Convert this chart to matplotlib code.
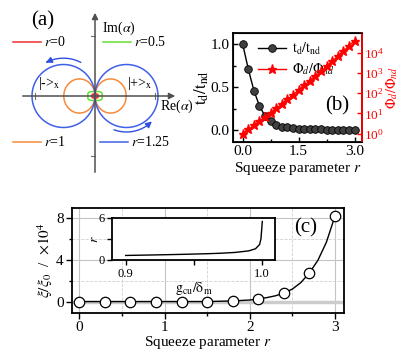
import numpy as np
import matplotlib
matplotlib.use("Agg")
import matplotlib.pyplot as plt
from matplotlib.ticker import MultipleLocator, FixedLocator, NullFormatter

plt.rcParams['font.family'] = 'serif'
plt.rcParams['font.serif'] = ['Liberation Serif', 'DejaVu Serif']
plt.rcParams['mathtext.fontset'] = 'stix'

# ---- panel (a): contours in phase space (units: one tick = 1)
a_labels = ['0', '0.5', '1', '1.25']
a_colors = ['#f03030', '#66dd33', '#f58a3c', '#4060e8']
lobe_a = [0.05, 0.12, 0.26, 0.525]     # half width of each lobe
lobe_b = [0.033, 0.075, 0.285, 0.525]  # half height of each lobe
lobe_two = [False, False, True, True]  # two lobes touching at origin?

# ---- panel (b)
r_b = [0.0, 0.15, 0.3, 0.45, 0.6, 0.75, 0.9, 1.05, 1.2, 1.35, 1.5,
       1.65, 1.8, 1.95, 2.1, 2.25, 2.4, 2.55, 2.7, 2.85, 3.0]
t_ratio = [1.0, 0.71, 0.46, 0.28, 0.16, 0.10, 0.06, 0.04, 0.03, 0.02, 0.015,
           0.012, 0.01, 0.008, 0.006, 0.005, 0.004, 0.003, 0.002, 0.002, 0.001]
phi_ratio = [1, 1.6, 2.5, 4.1, 6.6, 10.7, 17.8, 29.5, 49, 83, 141,
             240, 407, 708, 1230, 2140, 3800, 6760, 12000, 21900, 39800]

# ---- panel (c)
r_c = [0.0, 0.3, 0.6, 0.9, 1.2, 1.5, 1.8, 2.1, 2.4, 2.7, 3.0]
xi_c = [0, 0, 0, 0, 0, 0, 0.06, 0.25, 0.8, 2.75, 8.2]
curve_r = [0.0, 1.5, 1.8, 2.0, 2.1, 2.2, 2.3, 2.4, 2.5, 2.6, 2.7, 2.8, 2.9, 3.0]
curve_xi = [0, 0, 0.06, 0.15, 0.25, 0.38, 0.55, 0.8, 1.2, 1.82, 2.75, 3.96, 5.7, 8.2]
g_in = [0.9, 0.92, 0.94, 0.96, 0.97, 0.98, 0.99, 0.995, 0.998, 0.999, 0.9995, 1.0]
r_in = [0.65, 0.72, 0.8, 0.9, 0.97, 1.08, 1.3, 1.6, 2.2, 3.0, 4.2, 5.5]

fig = plt.figure(figsize=(4, 3.5), dpi=100)

# ================= (a)
axa = fig.add_axes([0, 1 - 190 / 350, 0.5, 190 / 350])
axa.set_xlim(-95 / 60, 105 / 60)
axa.set_ylim(-94 / 60, 96 / 60)
axa.set_aspect('equal')
axa.axis('off')

axc = '#707070'
axa.annotate('', xy=(83 / 60, 0), xytext=(-75 / 60, 0),
             arrowprops=dict(arrowstyle='-|>', color='#505050', lw=1.1, mutation_scale=9))
axa.annotate('', xy=(0, 86 / 60), xytext=(0, -79 / 60),
             arrowprops=dict(arrowstyle='-|>', color='#505050', lw=1.1, mutation_scale=9))
for t in (-1, 1):
    axa.plot([t, t], [-0.05, 0.05], color=axc, lw=0.8)
    axa.plot([-0.07, 0], [t, t], color=axc, lw=0.8)

th = np.linspace(0, 2 * np.pi, 200)
for a, b, two, c in zip(lobe_a, lobe_b, lobe_two, a_colors):
    if two:
        for s in (-1, 1):
            axa.plot(s * a + a * np.cos(th), b * np.sin(th), color=c, lw=1.1)
    elif c == a_colors[1]:
        # rounded rectangle-like superellipse
        n = 4
        xs = a * np.sign(np.cos(th)) * np.abs(np.cos(th)) ** (2 / n)
        ys = b * np.sign(np.sin(th)) * np.abs(np.sin(th)) ** (2 / n)
        axa.plot(xs, ys, color=c, lw=1.1)
    else:
        axa.plot(a * np.cos(th), b * np.sin(th), color=c, lw=1.6)

# rotation arrows
ang = np.radians(np.linspace(63, 118, 40))
axa.plot(-0.525 + 0.63 * np.cos(ang[:-3]), 0.63 * np.sin(ang[:-3]), color='#3050e0', lw=1)
axa.annotate('', xy=(-0.525 + 0.63 * np.cos(ang[-1]), 0.63 * np.sin(ang[-1])),
             xytext=(-0.525 + 0.63 * np.cos(ang[-6]), 0.63 * np.sin(ang[-6])),
             arrowprops=dict(arrowstyle='-|>', color='#3050e0', lw=1, mutation_scale=9))
ang = np.radians(np.linspace(-110, -45, 40))
axa.plot(0.525 + 0.6 * np.cos(ang[:-3]), 0.6 * np.sin(ang[:-3]), color='#3050e0', lw=1)
axa.annotate('', xy=(0.525 + 0.6 * np.cos(ang[-1]), 0.6 * np.sin(ang[-1])),
             xytext=(0.525 + 0.6 * np.cos(ang[-6]), 0.6 * np.sin(ang[-6])),
             arrowprops=dict(arrowstyle='-|>', color='#3050e0', lw=1, mutation_scale=9))

axa.text(-0.88, 1.25, '(a)', fontsize=15, ha='center', va='center')
axa.text(0.12, 1.12, r'Im($\alpha$)', fontsize=10, va='center')
axa.text(1.08, -0.17, r'Re($\alpha$)', fontsize=10, va='center')
axa.text(-0.95, 0.2, r'|->$_{\rm x}$', fontsize=10, va='center')
axa.text(0.53, 0.2, r'|+>$_{\rm x}$', fontsize=10, va='center')

leg_pos = [(-1.37, 0.9), (0.13, 0.9), (-1.37, -0.77), (0.08, -0.77)]
for (lx, ly), lab, c in zip(leg_pos, a_labels, a_colors):
    axa.plot([lx, lx + 0.47], [ly, ly], color=c, lw=1.1)
    axa.text(lx + 0.52, ly, '$r$=' + lab, fontsize=10, va='center')

# ================= (b)
axb = fig.add_axes([233 / 400, 1 - 142 / 350, 129 / 400, 109 / 350])
l1, = axb.plot(r_b, t_ratio, color='black', lw=1, marker='o', ms=5.5,
               mfc='#404040', mec='black', mew=0.6, label=r'$\rm t_d/t_{nd}$')
axb.set_xlim(-0.26, 3.2)
axb.set_ylim(-0.14, 1.13)
axb.xaxis.set_major_locator(FixedLocator([0, 1.5, 3.0]))
axb.xaxis.set_minor_locator(FixedLocator([0.75, 2.25]))
axb.set_xticklabels(['0.0', '1.5', '3.0'])
axb.yaxis.set_major_locator(FixedLocator([0, 0.5, 1.0]))
axb.yaxis.set_minor_locator(FixedLocator([0.25, 0.75]))
axb.set_yticklabels(['0.0', '0.5', '1.0'])
axb.tick_params(which='both', direction='in', labelsize=11, width=1, pad=2.5)
axb.tick_params(which='major', length=3.5)
axb.tick_params(which='minor', length=2)
axb.set_xlabel('Squeeze parameter $r$', fontsize=11, labelpad=1)
axb.set_ylabel(r'$\rm t_d/t_{nd}$', fontsize=12, labelpad=0)
for sp in axb.spines.values():
    sp.set_linewidth(1.3)

axb2 = axb.twinx()
l2, = axb2.plot(r_b, phi_ratio, color='red', lw=1, marker='*', ms=6.5,
                label=r'$\Phi_d/\Phi_{nd}$')
axb2.set_yscale('log')
axb2.set_ylim(10 ** -0.42, 10 ** 4.98)
axb2.yaxis.set_major_locator(FixedLocator([1, 10, 100, 1e3, 1e4]))
axb2.yaxis.set_minor_formatter(NullFormatter())
axb2.tick_params(axis='y', which='minor', length=0)
axb2.tick_params(axis='y', which='major', direction='in', colors='red',
                 labelsize=9.5, length=3.5, width=1, pad=1.5)
axb2.spines['right'].set_color('red')
axb2.spines['right'].set_linewidth(1.3)
axb2.set_ylabel(r'$\Phi_d/\Phi_{nd}$', color='red', fontsize=10)
axb2.yaxis.set_label_coords(1.175, 0.5)
axb.legend([l1, l2], [l1.get_label(), l2.get_label()], loc='upper left',
           bbox_to_anchor=(0.1, 1.04), frameon=False, fontsize=10,
           handlelength=2.0, handletextpad=0.4, labelspacing=0.3)
axb.text(0.81, 0.33, '(b)', transform=axb.transAxes, fontsize=15,
         ha='center', va='center')

# ================= (c)
axc_ = fig.add_axes([72 / 400, 1 - 313 / 350, 272 / 400, 105 / 350])
axc_.set_xlim(-0.086, 3.107)
axc_.set_ylim(-1.1, 9)
axc_.xaxis.set_major_locator(MultipleLocator(1))
axc_.xaxis.set_minor_locator(MultipleLocator(0.5))
axc_.yaxis.set_major_locator(MultipleLocator(4))
axc_.yaxis.set_minor_locator(MultipleLocator(2))
axc_.grid(which='major', color='#c4c4c4', lw=0.8, ls='-')
axc_.grid(which='minor', color='#d0d0d0', lw=0.6, ls='--')
axc_.axhline(0, color='#cccccc', lw=2.5, zorder=1)
axc_.set_axisbelow(True)
axc_.plot(curve_r, curve_xi, color='black', lw=1, zorder=3)
axc_.plot(r_c, xi_c, ls='none', marker='o', ms=7.5, mfc='white', mec='black',
          mew=0.9, zorder=4)
axc_.tick_params(which='both', direction='out', labelsize=11, width=1, pad=2)
axc_.tick_params(which='major', length=4)
axc_.tick_params(which='minor', length=2.5)
for sp in axc_.spines.values():
    sp.set_linewidth(1.3)
axc_.set_xlabel('Squeeze parameter $r$', fontsize=11, labelpad=0)
axc_.set_ylabel(r'$\xi/\xi_0$  /  $\times10^4$', fontsize=11, labelpad=1)
axc_.text(0.86, 0.81, '(c)', transform=axc_.transAxes, fontsize=15,
          ha='center', va='center')

# inset
axi = fig.add_axes([112 / 400, 1 - 260 / 350, 163 / 400, 42 / 350])
axi.plot(g_in, r_in, color='black', lw=1)
axi.set_xlim(0.89, 1.0093)
axi.set_ylim(0, 6)
axi.xaxis.set_major_locator(FixedLocator([0.9, 1.0]))
axi.xaxis.set_minor_locator(FixedLocator([0.95]))
axi.set_xticklabels(['0.9', '1.0'])
axi.yaxis.set_major_locator(FixedLocator([0, 6]))
axi.yaxis.set_minor_locator(FixedLocator([3]))
axi.tick_params(which='both', direction='out', labelsize=9, width=1, pad=2)
axi.tick_params(which='major', length=3.5)
axi.tick_params(which='minor', length=3.5)
for sp in axi.spines.values():
    sp.set_linewidth(1.3)
axi.set_xlabel(r'$\rm g_{cu}/\delta_m$', fontsize=10, labelpad=0)
axi.set_ylabel('$r$', fontsize=10, labelpad=-2)

fig.savefig('out.png', dpi=100)
